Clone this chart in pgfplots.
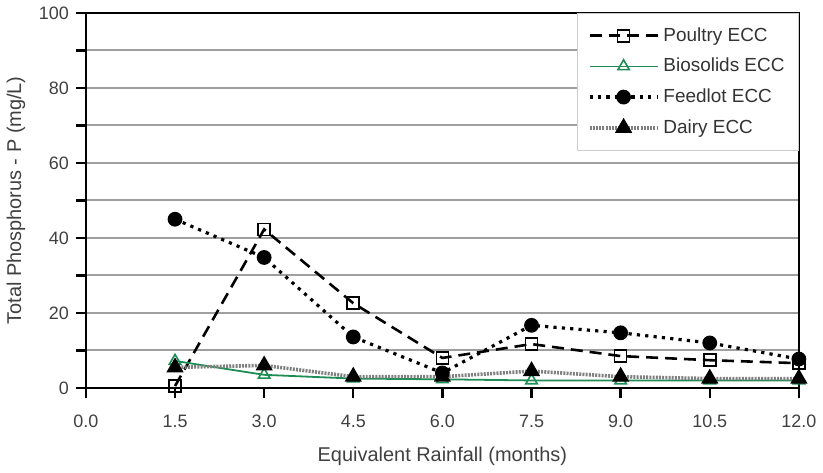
\documentclass[border=0pt]{standalone}
\usepackage{pgfplots}
\pgfplotsset{compat=1.18}
\usepackage{fontspec}
\setmainfont{Liberation Sans}
\definecolor{bgreen}{RGB}{30,140,85}
\begin{document}
\begin{tikzpicture}
\begin{axis}[
  scale only axis,
  width=357.5pt, height=188pt,
  xmin=0, xmax=12, ymin=0, ymax=100,
  xtick={0,1.5,...,12},
  ytick={0,20,...,100},
  minor ytick={10,30,...,90},
  xtick pos=bottom, ytick pos=left,
  grid=both,
  xmajorgrids=false, xminorgrids=false,
  major grid style={gray!75, line width=1pt},
  minor grid style={gray!75, line width=1pt},
  tick align=outside,
  major tick length=5pt, minor tick length=5pt,
  tick style={black, line width=1.2pt},
  axis line style={line width=1.3pt},
  /pgf/number format/assume math mode=true,
  x tick label style={/pgf/number format/fixed, /pgf/number format/fixed zerofill, /pgf/number format/precision=1, yshift=-5pt},
  ticklabel style={font=\fontsize{9}{10}\selectfont, text=black!75},
  xlabel={Equivalent Rainfall (months)},
  ylabel={Total Phosphorus - P (mg/L)},
  label style={font=\fontsize{10}{12}\selectfont, text=black!75},
  xlabel style={yshift=-3pt},
  ylabel style={yshift=0pt},
  legend cell align=left,
  legend style={at={(1,1)}, anchor=north east, draw=gray!40, fill=white,
    font=\fontsize{9.5}{11}\selectfont, text=black!80, row sep=3pt,
    inner xsep=5pt, inner ysep=5pt},
  legend image code/.code={\draw[mark repeat=2,mark phase=2] plot coordinates {(0cm,0cm)(0.6cm,0cm)(1.2cm,0cm)};},
]
\addplot[black, line width=1.3pt, dash pattern=on 6pt off 3.5pt, mark=square, mark size=3pt, mark options={solid, fill=white, line width=0.8pt}]
coordinates {(1.5,0.5)(3.0,42.3)(4.5,22.6)(6.0,8.0)(7.5,11.7)(9.0,8.5)(10.5,7.4)(12.0,6.6)};
\addlegendentry{Poultry ECC}
\addplot[bgreen, line width=0.9pt, mark=triangle, mark size=3.3pt, mark options={solid, fill=white, line width=0.8pt}]
coordinates {(1.5,7.2)(3.0,3.5)(4.5,2.5)(6.0,2.3)(7.5,2.0)(9.0,2.0)(10.5,2.0)(12.0,2.0)};
\addlegendentry{Biosolids ECC}
\addplot[black, line width=1.6pt, dash pattern=on 1.6pt off 2.6pt, mark=*, mark size=2.9pt, mark options={solid}]
coordinates {(1.5,45.0)(3.0,34.8)(4.5,13.6)(6.0,4.0)(7.5,16.7)(9.0,14.7)(10.5,12.0)(12.0,7.7)};
\addlegendentry{Feedlot ECC}
\addplot[gray, line width=1.8pt, dash pattern=on 1pt off 0.6pt, mark=triangle*, mark size=3.2pt, mark options={solid, black}]
coordinates {(1.5,5.5)(3.0,6.0)(4.5,3.0)(6.0,3.0)(7.5,4.5)(9.0,3.0)(10.5,2.5)(12.0,2.5)};
\addlegendentry{Dairy ECC}
\end{axis}
\end{tikzpicture}
\end{document}
